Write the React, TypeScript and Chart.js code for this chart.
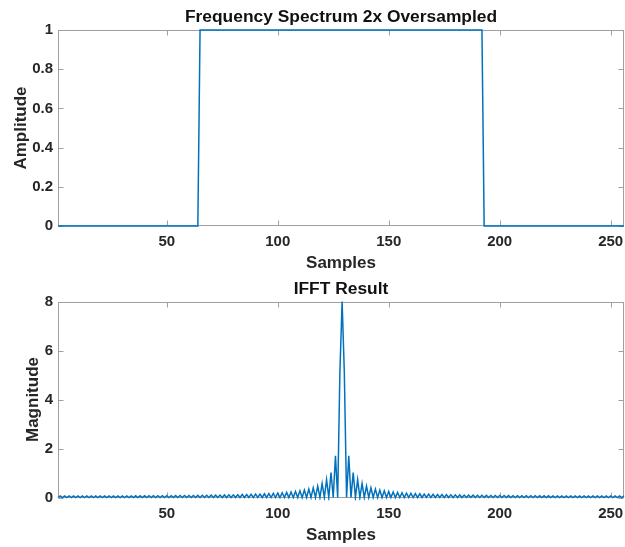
import React, { useEffect, useRef } from "react";
import { Chart, registerables } from "chart.js";

Chart.register(...registerables);

// ---------- data ----------
// Top panel: rectangular spectrum (breakpoints of the step)
const spectrumSamples = [1, 64, 65, 192, 193, 256];
const spectrumAmplitude = [0, 0, 1, 1, 0, 0];

// Bottom panel: magnitude of IFFT, samples 1..256
const ifftMagnitude = [
  0, 0.063, 0, 0.063, 0, 0.063, 0, 0.063, 0, 0.063, 0, 0.063, 0, 0.063, 0, 0.064,
  0, 0.064, 0, 0.064, 0, 0.065, 0, 0.065, 0, 0.066, 0, 0.066, 0, 0.067, 0, 0.067,
  0, 0.068, 0, 0.069, 0, 0.07, 0, 0.07, 0, 0.071, 0, 0.072, 0, 0.073, 0, 0.075,
  0, 0.076, 0, 0.077, 0, 0.079, 0, 0.08, 0, 0.082, 0, 0.083, 0, 0.085, 0, 0.087,
  0, 0.089, 0, 0.092, 0, 0.094, 0, 0.097, 0, 0.1, 0, 0.103, 0, 0.107, 0, 0.11,
  0, 0.115, 0, 0.119, 0, 0.124, 0, 0.13, 0, 0.136, 0, 0.142, 0, 0.15, 0, 0.159,
  0, 0.168, 0, 0.179, 0, 0.192, 0, 0.207, 0, 0.224, 0, 0.245, 0, 0.27, 0, 0.302,
  0, 0.341, 0, 0.393, 0, 0.464, 0, 0.567, 0, 0.729, 0, 1.019, 0, 1.698, 0, 5.093,
  8,
  5.093, 0, 1.698, 0, 1.019, 0, 0.729, 0, 0.567, 0, 0.464, 0, 0.393, 0, 0.341, 0,
  0.302, 0, 0.27, 0, 0.245, 0, 0.224, 0, 0.207, 0, 0.192, 0, 0.179, 0, 0.168, 0,
  0.159, 0, 0.15, 0, 0.142, 0, 0.136, 0, 0.13, 0, 0.124, 0, 0.119, 0, 0.115, 0,
  0.11, 0, 0.107, 0, 0.103, 0, 0.1, 0, 0.097, 0, 0.094, 0, 0.092, 0, 0.089, 0,
  0.087, 0, 0.085, 0, 0.083, 0, 0.082, 0, 0.08, 0, 0.079, 0, 0.077, 0, 0.076, 0,
  0.075, 0, 0.073, 0, 0.072, 0, 0.071, 0, 0.07, 0, 0.07, 0, 0.069, 0, 0.068, 0,
  0.067, 0, 0.067, 0, 0.066, 0, 0.066, 0, 0.065, 0, 0.065, 0, 0.064, 0, 0.064, 0,
  0.064, 0, 0.063, 0, 0.063, 0, 0.063, 0, 0.063, 0, 0.063, 0, 0.063, 0, 0.063,
];

const xTicks = [50, 100, 150, 200, 250];
const amplitudeTicks = [0, 0.2, 0.4, 0.6, 0.8, 1];
const magnitudeTicks = [0, 2, 4, 6, 8];

// ---------- styles ----------
const LINE = "#0072BD";
const AXIS = "#a0a0a0";
const TEXT = "#262626";
const TITLE = "#111111";
const FONT = "'Liberation Sans', Arial, Helvetica, sans-serif";

const boxPlugin = {
  id: "matlabBox",
  beforeDatasetsDraw(chart: any) {
    const { ctx, chartArea: a, scales } = chart;
    ctx.save();
    ctx.strokeStyle = AXIS;
    ctx.lineWidth = 1;
    const l = Math.round(a.left) + 0.5;
    const r = Math.round(a.right) - 0.5;
    const t = Math.round(a.top) + 0.5;
    const b = Math.round(a.bottom) - 0.5;
    ctx.strokeRect(l, t, r - l, b - t);
    const tl = 5;
    ctx.beginPath();
    for (const tk of scales.x.ticks) {
      const px = Math.round(scales.x.getPixelForValue(tk.value)) + 0.5;
      ctx.moveTo(px, b);
      ctx.lineTo(px, b - tl);
      ctx.moveTo(px, t);
      ctx.lineTo(px, t + tl);
    }
    for (const tk of scales.y.ticks) {
      const py = Math.round(scales.y.getPixelForValue(tk.value)) + 0.5;
      ctx.moveTo(l, py);
      ctx.lineTo(l + tl, py);
      ctx.moveTo(r, py);
      ctx.lineTo(r - tl, py);
    }
    ctx.stroke();
    ctx.restore();
  },
};

// Axes title centred over the plotting box (as MATLAB does)
const axesTitlePlugin = {
  id: "axesTitle",
  afterDraw(chart: any, _args: any, opts: any) {
    const { ctx, chartArea: a } = chart;
    ctx.save();
    ctx.fillStyle = TITLE;
    ctx.font = `bold 17.4px ${FONT}`;
    ctx.textAlign = "center";
    ctx.textBaseline = "middle";
    ctx.fillText(opts.text, (a.left + a.right) / 2, opts.y);
    ctx.restore();
  },
};

type PanelOpts = {
  title: string;
  titleY: number;
  plotTop: number;
  xs: number[];
  ys: number[];
  yMax: number;
  yTicks: number[];
  yLabel: string;
  yLabelPad: number;
  xAxisHeight: number;
  xLabelPad: number;
  yFmt: (v: number) => string;
};

function makeConfig(o: PanelOpts): any {
  const points = o.xs.map((x, i) => ({ x, y: o.ys[i] }));
  return {
    type: "line",
    data: {
      datasets: [
        {
          data: points,
          borderColor: LINE,
          backgroundColor: LINE,
          borderWidth: 1.5,
          pointRadius: 0,
          tension: 0,
          fill: false,
          clip: 3,
        },
      ],
    },
    options: {
      animation: false,
      responsive: false,
      maintainAspectRatio: false,
      events: [],
      layout: { padding: { left: 0, right: 1, top: o.plotTop, bottom: 0 } },
      plugins: {
        legend: { display: false },
        tooltip: { enabled: false },
        title: { display: false },
        axesTitle: { text: o.title, y: o.titleY },
      },
      scales: {
        x: {
          type: "linear",
          min: 1,
          max: 256,
          afterBuildTicks: (s: any) => {
            s.ticks = xTicks.map((v) => ({ value: v }));
          },
          afterFit: (s: any) => {
            s.height = o.xAxisHeight;
            s.paddingLeft = 0;
            s.paddingRight = 0;
          },
          grid: { display: false, drawTicks: false },
          border: { display: false },
          ticks: {
            padding: 7,
            maxRotation: 0,
            autoSkip: false,
            color: TEXT,
            font: { family: FONT, size: 15, weight: "bold", lineHeight: 1.2 },
            callback: (v: any) => String(v),
          },
          title: {
            display: true,
            text: "Samples",
            color: TEXT,
            font: { family: FONT, size: 17, weight: "bold", lineHeight: 1.2 },
            padding: { top: 0, bottom: o.xLabelPad },
          },
        },
        y: {
          type: "linear",
          min: 0,
          max: o.yMax,
          afterBuildTicks: (s: any) => {
            s.ticks = o.yTicks.map((v) => ({ value: v }));
          },
          afterFit: (s: any) => {
            s.width = 58;
            s.paddingTop = 0;
            s.paddingBottom = 0;
          },
          grid: { display: false, drawTicks: false },
          border: { display: false },
          ticks: {
            padding: 5,
            color: TEXT,
            font: { family: FONT, size: 15, weight: "bold", lineHeight: 1.2 },
            callback: (v: any) => o.yFmt(Number(v)),
          },
          title: {
            display: true,
            text: o.yLabel,
            color: TEXT,
            font: { family: FONT, size: 17, weight: "bold", lineHeight: 1.2 },
            padding: { top: o.yLabelPad, bottom: 0 },
          },
        },
      },
    },
    plugins: [boxPlugin, axesTitlePlugin],
  };
}

export default function App() {
  const topRef = useRef<HTMLCanvasElement | null>(null);
  const botRef = useRef<HTMLCanvasElement | null>(null);

  useEffect(() => {
    const sampleIndex = ifftMagnitude.map((_, k) => k + 1);
    const c1 = new Chart(
      topRef.current as HTMLCanvasElement,
      makeConfig({
        title: "Frequency Spectrum 2x Oversampled",
        titleY: 17.5,
        plotTop: 30,
        xs: spectrumSamples,
        ys: spectrumAmplitude,
        yMax: 1,
        yTicks: amplitudeTicks,
        yLabel: "Amplitude",
        yLabelPad: 10.8,
        xAxisHeight: 48,
        xLabelPad: 0,
        yFmt: (v) => String(Number(v.toFixed(1))),
      })
    );
    const c2 = new Chart(
      botRef.current as HTMLCanvasElement,
      makeConfig({
        title: "IFFT Result",
        titleY: 16.5,
        plotTop: 28.5,
        xs: sampleIndex,
        ys: ifftMagnitude,
        yMax: 8,
        yTicks: magnitudeTicks,
        yLabel: "Magnitude",
        yLabelPad: 23.5,
        xAxisHeight: 49.5,
        xLabelPad: 1,
        yFmt: (v) => String(v),
      })
    );
    return () => {
      c1.destroy();
      c2.destroy();
    };
  }, []);

  return (
    <div
      style={{
        position: "absolute",
        left: 0,
        top: 0,
        width: 625,
        height: 547,
        background: "#ffffff",
      }}
    >
      <canvas
        ref={topRef}
        width={625}
        height={274}
        style={{ position: "absolute", left: 0, top: 0, width: 625, height: 274, display: "block" }}
      />
      <canvas
        ref={botRef}
        width={625}
        height={274}
        style={{ position: "absolute", left: 0, top: 273, width: 625, height: 274, display: "block" }}
      />
    </div>
  );
}
